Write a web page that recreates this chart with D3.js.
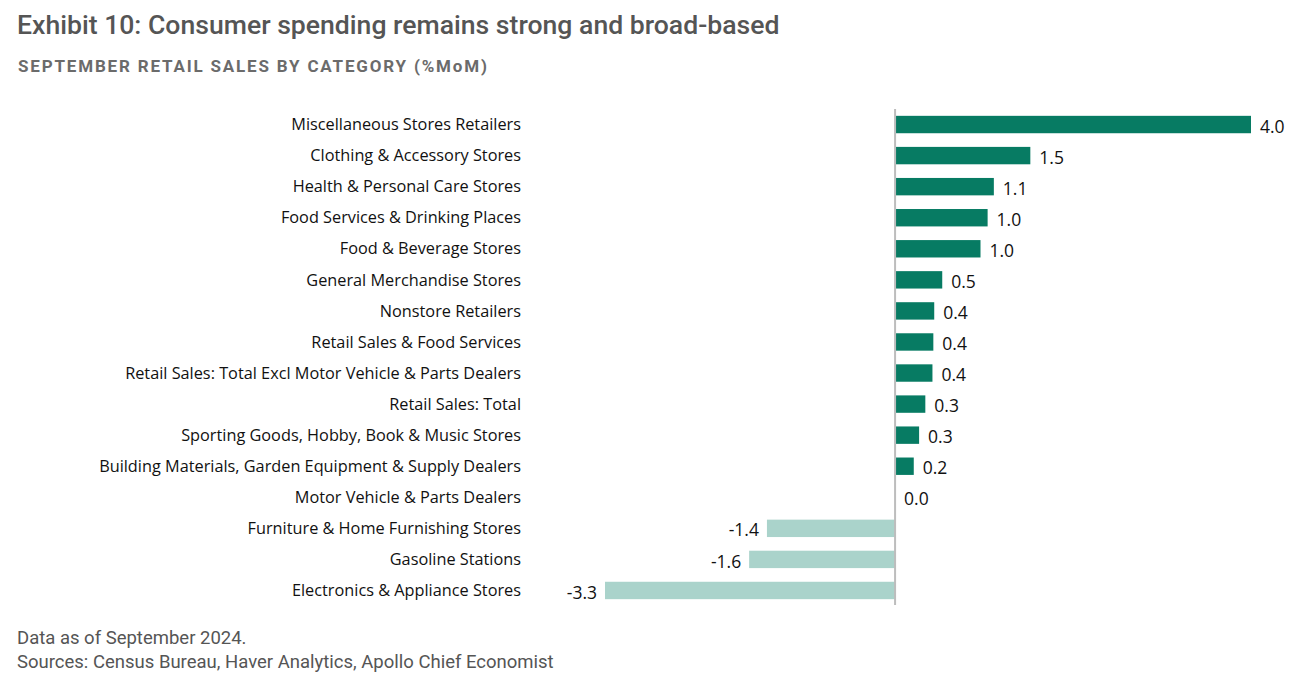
<!DOCTYPE html>
<html><head><meta charset="utf-8">
<script src="https://cdn.jsdelivr.net/npm/d3@7"></script>
<style>
body{margin:0;background:#fff;}
svg{display:block;}
</style></head>
<body>
<svg id="chart" width="1294" height="685"></svg>
<script>
const categories = [
  "Miscellaneous Stores Retailers",
  "Clothing & Accessory Stores",
  "Health & Personal Care Stores",
  "Food Services & Drinking Places",
  "Food & Beverage Stores",
  "General Merchandise Stores",
  "Nonstore Retailers",
  "Retail Sales & Food Services",
  "Retail Sales: Total Excl Motor Vehicle & Parts Dealers",
  "Retail Sales: Total",
  "Sporting Goods, Hobby, Book & Music Stores",
  "Building Materials, Garden Equipment & Supply Dealers",
  "Motor Vehicle & Parts Dealers",
  "Furniture & Home Furnishing Stores",
  "Gasoline Stations",
  "Electronics & Appliance Stores"
];
const values = [4.0, 1.52, 1.11, 1.04, 0.96, 0.53, 0.44, 0.43, 0.42, 0.34, 0.27, 0.21, 0.0, -1.44, -1.64, -3.26];
const title = "Exhibit 10: Consumer spending remains strong and broad-based";
const subtitle = "SEPTEMBER RETAIL SALES BY CATEGORY (%MoM)";
const notes = ["Data as of September 2024.", "Sources: Census Bureau, Haver Analytics, Apollo Chief Economist"];

const svg = d3.select("#chart");
const x = d3.scaleLinear().domain([-3.26, 4.0]).range([605, 1251]);
const y = d3.scaleBand().domain(categories).range([109, 606]).paddingInner(0.44).paddingOuter(0.22);

svg.append("text").attr("x", 17).attr("y", 34)
  .attr("font-family", "Roboto").attr("font-weight", 500).attr("font-size", 26.6)
  .attr("fill", "#555").text(title);
svg.append("text").attr("x", 18).attr("y", 72)
  .attr("font-family", "Roboto").attr("font-weight", 700).attr("font-size", 17)
  .attr("letter-spacing", 1.82).attr("fill", "#6b6b6b").text(subtitle);

const g = svg.append("g");
g.selectAll("rect").data(categories).join("rect")
  .attr("x", (d,i) => Math.min(x(0), x(values[i])))
  .attr("width", (d,i) => Math.abs(x(values[i]) - x(0)))
  .attr("y", d => y(d)).attr("height", y.bandwidth())
  .attr("fill", (d,i) => values[i] >= 0 ? "#077b63" : "#aad3cb");

svg.append("line").attr("x1", x(0)).attr("x2", x(0)).attr("y1", 109).attr("y2", 605)
  .attr("stroke", "#bdbdbd").attr("stroke-width", 2);

g.selectAll("text.cat").data(categories).join("text").attr("class","cat")
  .attr("x", 521).attr("y", d => y(d) + y.bandwidth()/2).attr("dy", "0.35em")
  .attr("text-anchor", "end").attr("font-family", "Open Sans").attr("font-size", 16.3)
  .attr("fill", "#111").text(d => d);

g.selectAll("text.val").data(categories).join("text").attr("class","val")
  .attr("x", (d,i) => values[i] >= 0 ? x(values[i]) + 9 : x(values[i]) - 8)
  .attr("y", d => y(d) + y.bandwidth()/2 + 2).attr("dy", "0.35em")
  .attr("text-anchor", (d,i) => values[i] >= 0 ? "start" : "end")
  .attr("font-family", "Open Sans").attr("font-size", 17.5)
  .attr("fill", "#111").text((d,i) => values[i].toFixed(1));

svg.selectAll("text.note").data(notes).join("text").attr("class","note")
  .attr("x", 17).attr("y", (d,i) => 644 + i*24)
  .attr("font-family", "Roboto").attr("font-size", 18.5)
  .attr("fill", "#555").text(d => d);
</script>
</body></html>
